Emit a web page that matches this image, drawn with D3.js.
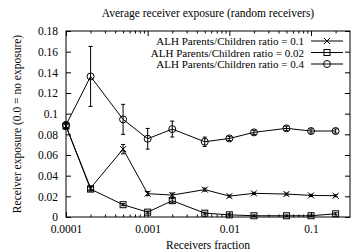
<!DOCTYPE html>
<html>
<head>
<meta charset="utf-8">
<script src="https://cdn.jsdelivr.net/npm/d3@7"></script>
<style>
  body { margin: 0; background: #fff; }
  text { font-family: "Liberation Serif", "Times New Roman", serif; font-size: 11.5px; fill: #000; }
  .legend text { font-size: 11px; }
</style>
</head>
<body>
<script>
// Data
const fractions = [0.0001, 0.0002, 0.0005, 0.001, 0.002, 0.005, 0.01, 0.02, 0.05, 0.1, 0.2];
const ratio01 = [0.088, 0.028, 0.0657, 0.0226, 0.0212, 0.0265, 0.0202, 0.0229, 0.0222, 0.0209, 0.0206];
const ratio01Err = [0.003, 0.002, 0.0045, 0.002, 0.002, 0.0015, 0.001, 0.001, 0.001, 0.001, 0.001];
const ratio002 = [0.088, 0.027, 0.0119, 0.0047, 0.0158, 0.0037, 0.0021, 0.0012, 0.0012, 0.0012, 0.0031];
const ratio002Err = [0.003, 0.002, 0.001, 0.001, 0.002, 0.001, 0.001, 0.0008, 0.0008, 0.0008, 0.001];
const ratio04 = [0.089, 0.136, 0.0945, 0.0757, 0.0851, 0.0728, 0.076, 0.0819, 0.0858, 0.0832, 0.0832];
const ratio04Err = [0.003, 0.029, 0.0145, 0.010, 0.0077, 0.0045, 0.002, 0.002, 0.002, 0.002, 0.002];
const seriesNames = ['ALH Parents/Children ratio = 0.1', 'ALH Parents/Children ratio = 0.02', 'ALH Parents/Children ratio = 0.4'];
const xTickLabels = ['0.0001', '0.001', '0.01', '0.1'];
const xMajor = [0.0001, 0.001, 0.01, 0.1];
const yTicks = [0, 0.02, 0.04, 0.06, 0.08, 0.1, 0.12, 0.14, 0.16, 0.18];

const width = 354, height = 251;
const margin = { left: 66, right: 4, top: 31, bottom: 34 };

const svg = d3.select('body').append('svg')
  .attr('width', width)
  .attr('height', height);

const x = d3.scaleLog()
  .domain([0.0001, 0.3])
  .range([margin.left, width - margin.right]);

const y = d3.scaleLinear()
  .domain([0, 0.18])
  .range([height - margin.bottom, margin.top]);

// minor ticks: 2..9 in each decade
const xMinor = [];
[0.0001, 0.001, 0.01, 0.1].forEach(d => {
  for (let k = 2; k <= 9; k++) {
    if (d * k <= 0.3) xMinor.push(d * k);
  }
});

const x0 = x.range()[0], x1 = x.range()[1];
const y0 = y.range()[0], y1 = y.range()[1];

// Axes
svg.append('g')
  .attr('transform', `translate(0,${y0})`)
  .call(d3.axisBottom(x).tickValues(xMajor)
    .tickFormat((d, i) => xTickLabels[i])
    .tickSizeInner(-5).tickSizeOuter(0).tickPadding(8));

svg.append('g')
  .attr('transform', `translate(0,${y0})`)
  .call(d3.axisBottom(x).tickValues(xMinor).tickFormat('')
    .tickSizeInner(-2.5).tickSizeOuter(0));

svg.append('g')
  .attr('transform', `translate(0,${y1})`)
  .call(d3.axisTop(x).tickValues(xMajor).tickFormat('')
    .tickSizeInner(-5).tickSizeOuter(0));

svg.append('g')
  .attr('transform', `translate(0,${y1})`)
  .call(d3.axisTop(x).tickValues(xMinor).tickFormat('')
    .tickSizeInner(-2.5).tickSizeOuter(0));

svg.append('g')
  .attr('transform', `translate(${x0},0)`)
  .call(d3.axisLeft(y).tickValues(yTicks).tickFormat(d3.format('~g'))
    .tickSizeInner(-5).tickSizeOuter(0).tickPadding(8));

svg.append('g')
  .attr('transform', `translate(${x1},0)`)
  .call(d3.axisRight(y).tickValues(yTicks).tickFormat('')
    .tickSizeInner(-5).tickSizeOuter(0));

svg.selectAll('.domain').remove();
svg.selectAll('.tick line').attr('stroke', '#000');
svg.selectAll('.tick text').attr('font-family', null).attr('font-size', null);

// frame
svg.append('rect')
  .attr('x', x0).attr('y', y1)
  .attr('width', x1 - x0).attr('height', y0 - y1)
  .attr('fill', 'none').attr('stroke', '#000');

// Title and axis labels
svg.append('text')
  .attr('x', (x0 + x1) / 2).attr('y', 17)
  .attr('text-anchor', 'middle')
  .text('Average receiver exposure (random receivers)');

svg.append('text')
  .attr('x', (x0 + x1) / 2).attr('y', 249)
  .attr('text-anchor', 'middle')
  .text('Receivers fraction');

svg.append('text')
  .attr('transform', `translate(21,${(y0 + y1) / 2}) rotate(-90)`)
  .attr('text-anchor', 'middle')
  .text('Receiver exposure (0.0 = no exposure)');

// Marker drawing
function marker(g, type, cx, cy) {
  const s = 3;
  if (type === 'cross') {
    g.append('path')
      .attr('d', `M${cx - s},${cy - s}L${cx + s},${cy + s}M${cx - s},${cy + s}L${cx + s},${cy - s}`)
      .attr('stroke', '#000').attr('fill', 'none');
  } else if (type === 'square') {
    g.append('rect')
      .attr('x', cx - s).attr('y', cy - s)
      .attr('width', 2 * s).attr('height', 2 * s)
      .attr('stroke', '#000').attr('fill', 'none');
  } else {
    g.append('circle')
      .attr('cx', cx).attr('cy', cy).attr('r', s + 0.5)
      .attr('stroke', '#000').attr('fill', 'none');
  }
}

const series = [
  { name: seriesNames[0], values: ratio01, err: ratio01Err, type: 'cross' },
  { name: seriesNames[1], values: ratio002, err: ratio002Err, type: 'square' },
  { name: seriesNames[2], values: ratio04, err: ratio04Err, type: 'circle' }
];

const line = d3.line()
  .x(d => x(d[0]))
  .y(d => y(d[1]));

series.forEach(s => {
  const g = svg.append('g');
  const pts = fractions.map((f, i) => [f, s.values[i], s.err[i]]);
  g.append('path')
    .datum(pts)
    .attr('d', line)
    .attr('fill', 'none')
    .attr('stroke', '#000');
  pts.forEach(p => {
    const cx = x(p[0]);
    const ya = y(p[1] + p[2]), yb = y(p[1] - p[2]);
    g.append('path')
      .attr('d', `M${cx},${ya}L${cx},${yb}M${cx - 2},${ya}L${cx + 2},${ya}M${cx - 2},${yb}L${cx + 2},${yb}`)
      .attr('stroke', '#000').attr('fill', 'none');
    marker(g, s.type, cx, y(p[1]));
  });
});

// Legend
const legend = svg.append('g').attr('class', 'legend');
series.forEach((s, i) => {
  const ly = 41 + i * 11.5;
  legend.append('text')
    .attr('x', 304).attr('y', ly + 4)
    .attr('text-anchor', 'end')
    .text(s.name);
  legend.append('line')
    .attr('x1', 311).attr('x2', 343)
    .attr('y1', ly).attr('y2', ly)
    .attr('stroke', '#000');
  marker(legend, s.type, 327, ly);
});
</script>
</body>
</html>
